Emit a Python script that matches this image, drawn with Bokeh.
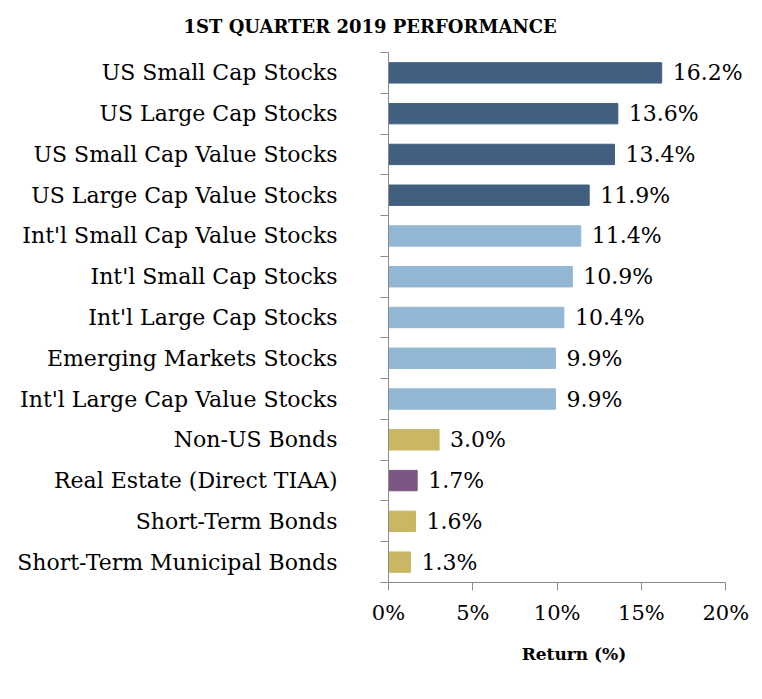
from bokeh.plotting import figure
from bokeh.models import FixedTicker, PrintfTickFormatter, ColumnDataSource, Title
from bokeh.core.properties import value
from bokeh.embed import file_html
from bokeh.resources import INLINE

categories = [
    "US Small Cap Stocks",
    "US Large Cap Stocks",
    "US Small Cap Value Stocks",
    "US Large Cap Value Stocks",
    "Int'l Small Cap Value Stocks",
    "Int'l Small Cap Stocks",
    "Int'l Large Cap Stocks",
    "Emerging Markets Stocks",
    "Int'l Large Cap Value Stocks",
    "Non-US Bonds",
    "Real Estate (Direct TIAA)",
    "Short-Term Bonds",
    "Short-Term Municipal Bonds",
]
returns = [16.2, 13.6, 13.4, 11.9, 11.4, 10.9, 10.4, 9.9, 9.9, 3.0, 1.7, 1.6, 1.3]
groups = ["us", "us", "us", "us", "intl", "intl", "intl", "intl", "intl",
          "bond", "re", "bond", "bond"]
x_ticks = [0, 5, 10, 15, 20]

palette = {"us": "#41607f", "intl": "#92b7d5", "bond": "#c9b764", "re": "#7c5682"}
FONT = "DejaVu Serif"

n = len(categories)
centers = [n - i - 0.5 for i in range(n)]
boundaries = list(range(n + 1))

src = ColumnDataSource(dict(
    y=centers,
    val=returns,
    color=[palette[g] for g in groups],
    label=[f"{v:.1f}%" for v in returns],
))

p = figure(width=762, height=699, x_range=(0, 22), y_range=(0, n),
           output_backend="svg", toolbar_location=None,
           min_border_left=388, min_border_right=3,
           min_border_top=52, min_border_bottom=117)
p.outline_line_color = None
p.xgrid.visible = False
p.ygrid.visible = False

p.hbar(y="y", left=0, right="val", height=0.5, color="color", source=src)
p.text(x="val", y="y", text="label", source=src, x_offset=11,
       text_baseline="middle", text_align="left",
       text_font=value(FONT), text_font_size="22px", text_color="black")

title = Title(text="1ST QUARTER 2019 PERFORMANCE", align="left", offset=-205,
              vertical_align="top",
              text_font=FONT, text_font_size="18px", text_font_style="bold",
              text_color="black", standoff=28)
p.add_layout(title, "above")

ya = p.yaxis[0]
ya.ticker = FixedTicker(ticks=centers, minor_ticks=boundaries)
ya.major_label_overrides = {c: cat for c, cat in zip(centers, categories)}
ya.major_tick_out = 0
ya.major_tick_in = 0
ya.minor_tick_out = 8
ya.minor_tick_in = 0
ya.axis_line_color = "#8a8a8a"
ya.minor_tick_line_color = "#8a8a8a"
ya.major_label_standoff = 43
ya.major_label_text_font = FONT
ya.major_label_text_font_size = "22px"
ya.major_label_text_color = "black"

xa = p.xaxis[0]
xa.bounds = (0, 20)
xa.ticker = FixedTicker(ticks=x_ticks, minor_ticks=[])
xa.formatter = PrintfTickFormatter(format="%d%%")
xa.major_tick_out = 8
xa.major_tick_in = 0
xa.axis_line_color = "#8a8a8a"
xa.major_tick_line_color = "#8a8a8a"
xa.major_label_standoff = 10
xa.major_label_text_font = FONT
xa.major_label_text_font_size = "21px"
xa.major_label_text_color = "black"
xa.axis_label = "Return (%)"
xa.axis_label_text_font = FONT
xa.axis_label_text_font_size = "17px"
xa.axis_label_text_font_style = "bold"
xa.axis_label_text_color = "black"
xa.axis_label_text_align = "right"
xa.axis_label_standoff = 16

open("out.html", "w").write(file_html(p, INLINE))
